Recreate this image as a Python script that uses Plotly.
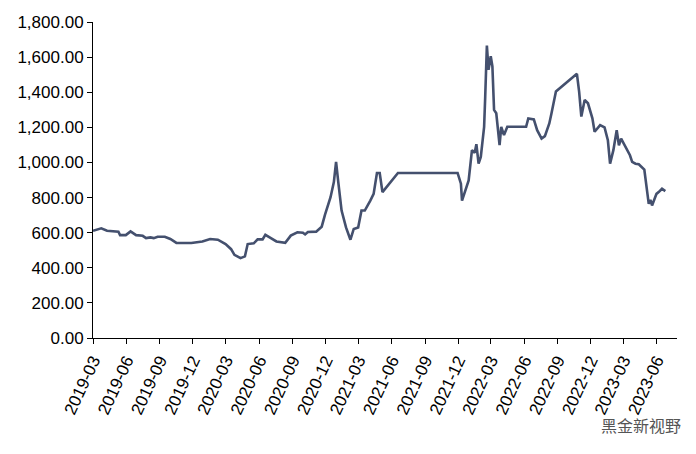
import pandas as pd
import plotly.graph_objects as go

# months elapsed since 2019-03-01
month_offset = [0,0.75,1.27,2.3,2.45,2.97,3.4,3.9,4.5,4.8,5.2,5.5,5.85,6.5,7.0,7.55,8.9,9.9,10.6,11.3,12.0,12.5,12.8,13.35,13.75,14.0,14.55,14.9,15.35,15.6,16.1,16.6,17.4,17.9,18.5,19.0,19.2,19.45,20.2,20.7,21.0,21.5,21.8,22.0,22.2,22.5,22.9,23.3,23.6,24.0,24.3,24.6,25.1,25.4,25.7,25.95,26.2,27.6,33.0,33.3,33.4,33.7,34.0,34.3,34.55,34.7,34.9,35.1,35.4,35.5,35.65,35.8,36.0,36.15,36.3,36.5,36.8,36.95,37.2,37.5,39.2,39.4,39.9,40.2,40.6,40.9,41.3,41.5,41.9,43.8,44.0,44.2,44.5,44.8,45.2,45.4,45.9,46.3,46.6,46.8,47.1,47.4,47.6,47.8,48.1,48.6,48.8,49.1,49.4,49.9,50.3,50.45,50.6,51.0,51.2,51.5,51.8]
price = [611,625,611,605,586,586,607,586,582,569,573,569,577,577,564,542,541,550,564,560,535,506,474,455,465,535,539,562,562,588,569,550,542,583,602,600,590,604,606,634,703,802,888,1003,888,726,630,560,621,630,726,726,783,821,940,940,831,940,940,879,783,840,898,1070,1055,1104,993,1031,1203,1375,1666,1528,1605,1547,1299,1280,1098,1203,1156,1203,1203,1251,1245,1184,1136,1150,1222,1280,1404,1505,1404,1261,1356,1337,1251,1175,1213,1200,1127,993,1070,1184,1098,1136,1098,1041,1003,993,990,959,764,787,755,821,831,850,837]

base = pd.Timestamp("2019-03-01")
dates = [base + pd.to_timedelta(m * 30.44, unit="D") for m in month_offset]
tick_vals = pd.date_range("2019-03-01", "2023-06-01", freq="3MS")
y_ticks = list(range(0, 1801, 200))

fig = go.Figure(go.Scatter(x=dates, y=price, mode="lines",
                           line=dict(color="#44506e", width=2.6)))
fig.update_layout(
    width=696, height=454, plot_bgcolor="white", paper_bgcolor="white",
    margin=dict(l=85, r=27, t=14, b=124), showlegend=False,
    font=dict(family="Liberation Sans, Arial", size=17, color="black"),
)
fig.update_xaxes(range=[base, pd.Timestamp("2023-07-27")], tickvals=tick_vals,
                 tickformat="%Y-%m", tickangle=-65, showgrid=False, automargin=False,
                 showline=True, linecolor="black", linewidth=1,
                 ticks="outside", ticklen=5, tickcolor="black")
fig.update_yaxes(range=[0, 1800], tickvals=y_ticks, automargin=False,
                 ticktext=[f"{v:,.2f}" for v in y_ticks], showgrid=False,
                 showline=True, linecolor="black", linewidth=1,
                 ticks="outside", ticklen=5, tickcolor="black", zeroline=False)
fig.add_annotation(text="黑金新视野", xref="paper", yref="paper", x=1.01, y=-0.275,
                   xanchor="right", yanchor="middle", showarrow=False,
                   font=dict(family="Noto Sans CJK SC", size=16, color="#555555"))
fig.write_html("out.html")
